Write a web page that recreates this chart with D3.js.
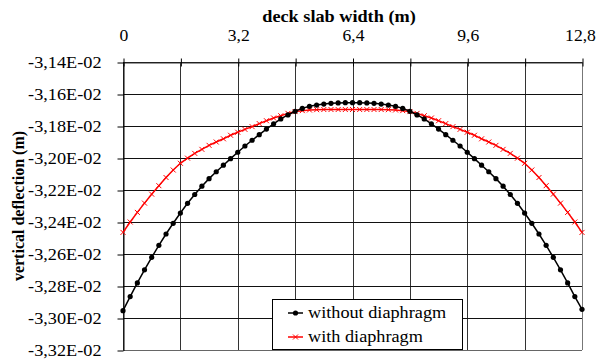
<!DOCTYPE html>
<html>
<head>
<meta charset="utf-8">
<script src="https://cdn.jsdelivr.net/npm/d3@7"></script>
<style>
  body { margin: 0; background: #fff; }
</style>
</head>
<body>
<div id="chart"></div>
<script>
// slab width stations (m)
var widthStations = [0, 0.2, 0.4, 0.6, 0.8, 1.0, 1.2, 1.4, 1.6, 1.8, 2.0, 2.2, 2.4, 2.6, 2.8, 3.0,
  3.2, 3.4, 3.6, 3.8, 4.0, 4.2, 4.4, 4.6, 4.8, 5.0, 5.2, 5.4, 5.6, 5.8, 6.0, 6.2, 6.4,
  6.6, 6.8, 7.0, 7.2, 7.4, 7.6, 7.8, 8.0, 8.2, 8.4, 8.6, 8.8, 9.0, 9.2, 9.4, 9.6,
  9.8, 10.0, 10.2, 10.4, 10.6, 10.8, 11.0, 11.2, 11.4, 11.6, 11.8, 12.0, 12.2, 12.4, 12.6, 12.8];

// deflections in units of E-02 m
var withoutDiaphragm = [-3.2954, -3.2866, -3.2781, -3.2699, -3.2621, -3.2546, -3.2475, -3.2408, -3.2344,
  -3.2283, -3.2228, -3.2176, -3.2129, -3.2086, -3.2045, -3.2004, -3.1964, -3.1925, -3.1889, -3.1854,
  -3.1819, -3.1786, -3.1756, -3.1731, -3.1708, -3.1690, -3.1677, -3.1669, -3.1663, -3.1658, -3.1656,
  -3.1654, -3.1654, -3.1654, -3.1656, -3.1658, -3.1663, -3.1669, -3.1677, -3.1690, -3.1708, -3.1731,
  -3.1756, -3.1786, -3.1819, -3.1854, -3.1889, -3.1925, -3.1964, -3.2004, -3.2045, -3.2086, -3.2129,
  -3.2176, -3.2228, -3.2283, -3.2344, -3.2408, -3.2475, -3.2546, -3.2621, -3.2699, -3.2781, -3.2866, -3.2946];

var withDiaphragm = [-3.2465, -3.2400, -3.2340, -3.2282, -3.2226, -3.2173, -3.2122, -3.2075, -3.2033,
  -3.2001, -3.1971, -3.1946, -3.1921, -3.1900, -3.1880, -3.1858, -3.1839, -3.1821, -3.1804, -3.1785,
  -3.1767, -3.1750, -3.1736, -3.1721, -3.1710, -3.1704, -3.1700, -3.1698, -3.1697, -3.1697, -3.1697,
  -3.1697, -3.1697, -3.1697, -3.1697, -3.1697, -3.1697, -3.1698, -3.1700, -3.1704, -3.1710, -3.1721,
  -3.1736, -3.1750, -3.1767, -3.1785, -3.1804, -3.1821, -3.1839, -3.1858, -3.1880, -3.1900, -3.1921,
  -3.1946, -3.1971, -3.2001, -3.2033, -3.2075, -3.2122, -3.2173, -3.2226, -3.2282, -3.2340, -3.2400, -3.2465];

var xGridValues = [0, 1.6, 3.2, 4.8, 6.4, 8.0, 9.6, 11.2, 12.8];
var xLabelValues = [0, 3.2, 6.4, 9.6, 12.8];
var yTickValues = [-3.14, -3.16, -3.18, -3.20, -3.22, -3.24, -3.26, -3.28, -3.30, -3.32];

var FONT = "Liberation Serif";
var STRETCH = 1.14; // the original picture is a bit wider than tall
var svgWidth = 597;
var svgHeight = 360;
var margin = { top: 62, right: 15, bottom: 10, left: 123 };
var width = svgWidth - margin.left - margin.right;
var height = svgHeight - margin.top - margin.bottom;

var svg = d3.select("#chart")
  .append("svg")
  .attr("width", svgWidth)
  .attr("height", svgHeight)
  .style("font-family", FONT);

var chartGroup = svg.append("g")
  .attr("transform", `translate(${margin.left}, ${margin.top})`);

var xScale = d3.scaleLinear().domain([0, 12.8]).range([0, width]);
var yScale = d3.scaleLinear().domain([-3.14, -3.32]).range([0, height]);

var fmtY = d => d.toFixed(2).replace(".", ",") + "E-02";
var fmtX = d => xLabelValues.indexOf(d) >= 0 ? String(d).replace(".", ",") : "";

// grid lines
chartGroup.append("g")
  .selectAll("line")
  .data(xGridValues)
  .enter()
  .append("line")
  .attr("x1", d => Math.round(xScale(d)) + 0.5)
  .attr("x2", d => Math.round(xScale(d)) + 0.5)
  .attr("y1", 0)
  .attr("y2", height)
  .attr("stroke", d => d === 12.8 ? "#777" : "#333")
  .attr("stroke-width", 1);

chartGroup.append("g")
  .selectAll("line")
  .data(yTickValues)
  .enter()
  .append("line")
  .attr("x1", 0)
  .attr("x2", width)
  .attr("y1", d => Math.round(yScale(d)) + 0.5)
  .attr("y2", d => Math.round(yScale(d)) + 0.5)
  .attr("stroke", d => d === -3.32 ? "#666" : "#111")
  .attr("stroke-width", 1);

// top x axis
var topAxis = d3.axisTop(xScale)
  .tickValues(xGridValues)
  .tickFormat(fmtX)
  .tickSizeInner(4)
  .tickSizeOuter(0);
var xAxis = chartGroup.append("g").attr("transform", "translate(0.5, 0.5)").call(topAxis);
xAxis.attr("font-family", null).attr("font-size", 16);
xAxis.select(".domain").attr("stroke", "#333");
xAxis.selectAll(".tick line").attr("y2", -4).attr("y1", 4).attr("stroke", "#000");
xAxis.selectAll("text")
  .attr("y", 0)
  .attr("dy", 0)
  // the last label is pulled a little inside, like in the original
  .attr("transform", d => `translate(${d === 12.8 ? -2.5 : 0}, -22) scale(1.1, 1)`)
  .attr("fill", "#000")
  .style("font-family", FONT);

// left y axis
var leftAxis = d3.axisLeft(yScale)
  .tickValues(yTickValues)
  .tickFormat(fmtY)
  .tickSizeInner(6)
  .tickSizeOuter(0);
var yAxis = chartGroup.append("g").attr("transform", "translate(0.5, 0.5)").call(leftAxis);
yAxis.attr("font-family", null).attr("font-size", 16);
yAxis.select(".domain").attr("stroke", "#000");
yAxis.selectAll("text")
  .attr("x", 0)
  .attr("transform", `translate(-22, 0) scale(${STRETCH}, 1)`)
  .attr("fill", "#000")
  .style("font-family", FONT);

// lines
var points0 = widthStations.map((x, i) => ({ x: x, y: withoutDiaphragm[i] }));
var points1 = widthStations.map((x, i) => ({ x: x, y: withDiaphragm[i] }));

var line = d3.line()
  .x(d => xScale(d.x))
  .y(d => yScale(d.y));

chartGroup.append("path")
  .datum(points1)
  .attr("fill", "none")
  .attr("stroke", "#ff0000")
  .attr("stroke-width", 1.5)
  .attr("d", line);

var crossSize = 2.5;
chartGroup.append("g")
  .selectAll("path")
  .data(points1)
  .enter()
  .append("path")
  .attr("d", d => {
    var cx = xScale(d.x), cy = yScale(d.y);
    return `M${cx - crossSize},${cy - crossSize}L${cx + crossSize},${cy + crossSize}M${cx - crossSize},${cy + crossSize}L${cx + crossSize},${cy - crossSize}`;
  })
  .attr("stroke", "#ff0000")
  .attr("stroke-width", 1);

chartGroup.append("path")
  .datum(points0)
  .attr("fill", "none")
  .attr("stroke", "#000")
  .attr("stroke-width", 1.5)
  .attr("d", line);

chartGroup.append("g")
  .selectAll("circle")
  .data(points0)
  .enter()
  .append("circle")
  .attr("cx", d => xScale(d.x))
  .attr("cy", d => yScale(d.y))
  .attr("r", 2.6)
  .attr("fill", "#000");

// titles
svg.append("text")
  .attr("transform", `translate(339, 22) scale(${STRETCH}, 1)`)
  .attr("text-anchor", "middle")
  .attr("font-size", 16)
  .attr("font-weight", "bold")
  .style("font-family", FONT)
  .text("deck slab width (m)");

svg.append("text")
  .attr("transform", `translate(24, ${margin.top + height / 2}) rotate(-90)`)
  .attr("text-anchor", "middle")
  .attr("font-size", 16)
  .attr("font-weight", "bold")
  .style("font-family", FONT)
  .text("vertical deflection (m)");

// legend
var legend = svg.append("g").attr("transform", "translate(272, 299)");
legend.append("rect")
  .attr("x", 0.5)
  .attr("y", 0.5)
  .attr("width", 190)
  .attr("height", 50)
  .attr("fill", "#fff")
  .attr("stroke", "#000");

var legendItems = [
  { label: "without diaphragm", color: "#000", marker: "circle", y: 14 },
  { label: "with diaphragm", color: "#ff0000", marker: "cross", y: 38 }
];
legendItems.forEach(function(item) {
  legend.append("line")
    .attr("x1", 16).attr("x2", 31)
    .attr("y1", item.y).attr("y2", item.y)
    .attr("stroke", item.color)
    .attr("stroke-width", 1.5);
  if (item.marker === "circle") {
    legend.append("circle")
      .attr("cx", 23.5).attr("cy", item.y).attr("r", 2.6).attr("fill", item.color);
  } else {
    legend.append("path")
      .attr("d", `M21,${item.y - 2.5}L26,${item.y + 2.5}M21,${item.y + 2.5}L26,${item.y - 2.5}`)
      .attr("stroke", item.color)
      .attr("stroke-width", 1);
  }
  legend.append("text")
    .attr("transform", `translate(36, ${item.y + 5}) scale(${STRETCH}, 1)`)
    .attr("font-size", 16)
    .style("font-family", FONT)
    .text(item.label);
});
</script>
</body>
</html>
